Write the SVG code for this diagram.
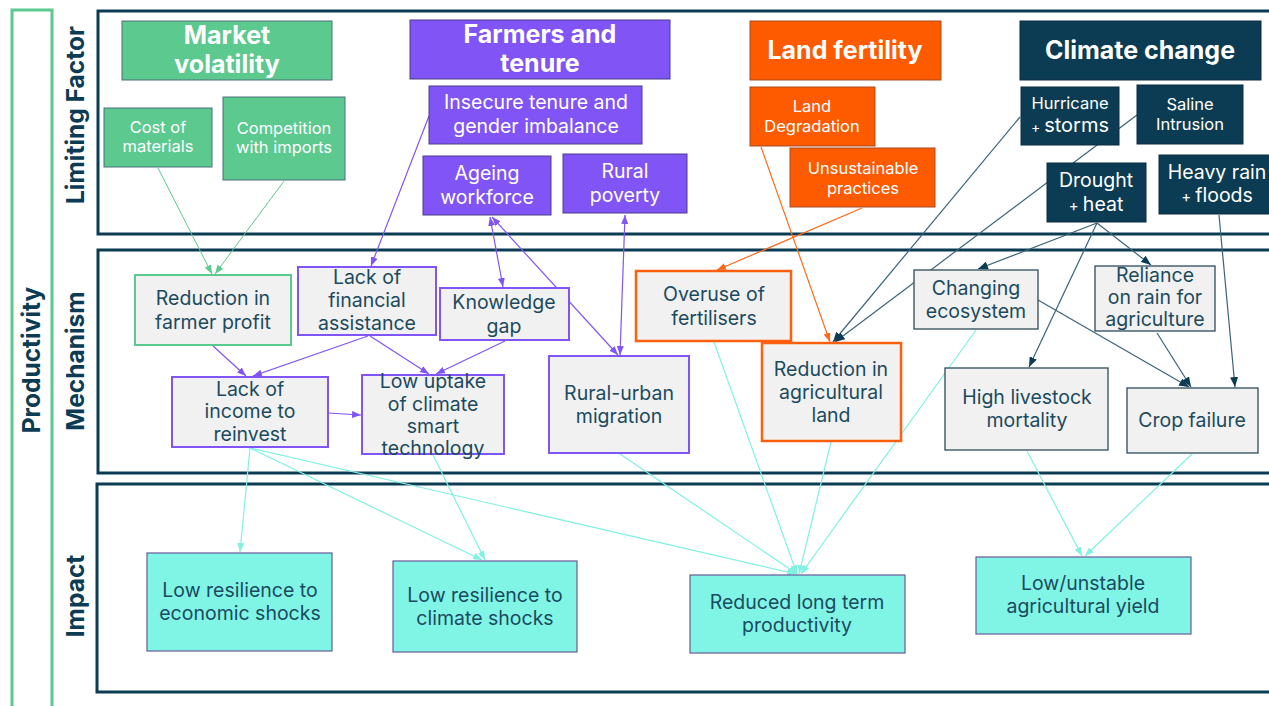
<svg xmlns="http://www.w3.org/2000/svg" width="1269" height="706" viewBox="0 0 1269 706">
  <style>
    text { font-family: Inter, "Noto Sans", "Liberation Sans", sans-serif; text-anchor: middle; }
    .title { font-size: 25px; font-weight: 700; fill: #ffffff; }
    .sub { font-size: 16.5px; font-weight: 400; fill: #ffffff; }
    .sub2 { font-size: 19.5px; font-weight: 400; fill: #ffffff; }
    .body { font-size: 19.5px; font-weight: 400; fill: #1b4a5f; }
    .lbl { font-size: 24.5px; font-weight: 700; fill: #0c3c54; }
    .frame { fill: none; stroke: #0c3c54; stroke-width: 3; }
    .g-fill { fill: #5cc98f; stroke: #4d6e7a; stroke-width: 1; }
    .p-fill { fill: #8155f5; stroke: #4a3d8a; stroke-width: 1; }
    .o-fill { fill: #fe5a00; stroke: #a94a20; stroke-width: 1; }
    .n-fill { fill: #0c3c54; stroke: #0a2d40; stroke-width: 1; }
    .m-green { fill: #f1f1f1; stroke: #5cc98f; stroke-width: 2; }
    .m-purple { fill: #f1f1f1; stroke: #8155f5; stroke-width: 2; }
    .m-orange { fill: #f1f1f1; stroke: #ff5f0f; stroke-width: 2.5; }
    .m-navy { fill: #f1f1f1; stroke: #2f4b5a; stroke-width: 1.3; }
    .imp { fill: #80f5e6; stroke: #6a5a9a; stroke-width: 1.2; }
    .c-green { stroke: #5cc98f; stroke-width: 1; fill: none; marker-end: url(#ah-green); }
    .c-purple { stroke: #8155f5; stroke-width: 1.2; fill: none; marker-end: url(#ah-purple); }
    .c-purple2 { stroke: #8155f5; stroke-width: 1.2; fill: none; marker-start: url(#ah-purple); marker-end: url(#ah-purple); }
    .c-orange { stroke: #ff6a1a; stroke-width: 1.2; fill: none; marker-end: url(#ah-orange); }
    .c-navy { stroke: #3a6378; stroke-width: 1.2; fill: none; marker-end: url(#ah-navy); }
    .c-cyan { stroke: #7ff2e2; stroke-width: 1.2; fill: none; marker-end: url(#ah-cyan); }
  </style>
  <defs>
    <marker id="ah-green" markerUnits="userSpaceOnUse" markerWidth="9" markerHeight="7" refX="9" refY="3.5" orient="auto-start-reverse"><path d="M0,0 L9,3.5 L0,7 z" fill="#5cc98f"/></marker>
    <marker id="ah-purple" markerUnits="userSpaceOnUse" markerWidth="9" markerHeight="7" refX="9" refY="3.5" orient="auto-start-reverse"><path d="M0,0 L9,3.5 L0,7 z" fill="#8155f5"/></marker>
    <marker id="ah-orange" markerUnits="userSpaceOnUse" markerWidth="9" markerHeight="7" refX="9" refY="3.5" orient="auto-start-reverse"><path d="M0,0 L9,3.5 L0,7 z" fill="#ff6a1a"/></marker>
    <marker id="ah-navy" markerUnits="userSpaceOnUse" markerWidth="10" markerHeight="8" refX="10" refY="4" orient="auto-start-reverse"><path d="M0,0 L10,4 L0,8 z" fill="#0c3c54"/></marker>
    <marker id="ah-cyan" markerUnits="userSpaceOnUse" markerWidth="9" markerHeight="7" refX="9" refY="3.5" orient="auto-start-reverse"><path d="M0,0 L9,3.5 L0,7 z" fill="#7ff2e2"/></marker>
  </defs>

  <rect width="1269" height="706" fill="#ffffff"/>

  <!-- Row frames and labels -->
  <g id="frames">
    <rect x="12" y="10" width="40" height="720" fill="none" stroke="#5cc98f" stroke-width="3"/>
    <rect class="frame" x="98" y="11" width="1190" height="223"/>
    <rect class="frame" x="98" y="250" width="1190" height="223"/>
    <rect class="frame" x="97" y="484" width="1190" height="208"/>
    <text class="lbl" transform="translate(40,360) rotate(-90)">Productivity</text>
    <text class="lbl" transform="translate(84,115) rotate(-90)">Limiting Factor</text>
    <text class="lbl" transform="translate(84,361) rotate(-90)">Mechanism</text>
    <text class="lbl" transform="translate(84,596) rotate(-90)">Impact</text>
  </g>

  <!-- Connectors -->
  <g id="connectors">
    <!-- market volatility -->
    <line class="c-green" x1="158" y1="168" x2="212" y2="274"/>
    <line class="c-green" x1="284" y1="181" x2="215" y2="274"/>
    <!-- farmers and tenure -->
    <line class="c-purple" x1="429" y1="116" x2="371" y2="266"/>
    <line class="c-purple2" x1="490" y1="217" x2="503" y2="287"/>
    <line class="c-purple2" x1="492" y1="217" x2="618" y2="355"/>
    <line class="c-purple2" x1="625" y1="215" x2="620" y2="355"/>
    <line class="c-purple" x1="213" y1="346" x2="246" y2="376"/>
    <line class="c-purple" x1="368" y1="336" x2="253" y2="376"/>
    <line class="c-purple" x1="370" y1="336" x2="429" y2="374"/>
    <line class="c-purple" x1="505" y1="341" x2="436" y2="374"/>
    <line class="c-purple" x1="328" y1="413" x2="361" y2="415"/>
    <!-- land fertility -->
    <line class="c-orange" x1="862" y1="208" x2="717" y2="270"/>
    <line class="c-orange" x1="761" y1="147" x2="830" y2="342"/>
    <!-- climate change -->
    <line class="c-navy" x1="1020" y1="117" x2="833" y2="342"/>
    <line class="c-navy" x1="1137" y1="115" x2="835" y2="342"/>
    <line class="c-navy" x1="1097" y1="223" x2="978" y2="269"/>
    <line class="c-navy" x1="1097" y1="223" x2="1029" y2="367"/>
    <line class="c-navy" x1="1097" y1="223" x2="1151" y2="265"/>
    <line class="c-navy" x1="1038" y1="300" x2="1189" y2="387"/>
    <line class="c-navy" x1="1157" y1="333" x2="1191" y2="387"/>
    <line class="c-navy" x1="1219" y1="215" x2="1235" y2="387"/>
    <!-- mechanisms to impacts -->
    <line class="c-cyan" x1="250" y1="448" x2="240" y2="552"/>
    <line class="c-cyan" x1="250" y1="448" x2="482" y2="560"/>
    <line class="c-cyan" x1="250" y1="448" x2="796" y2="574"/>
    <line class="c-cyan" x1="433" y1="455" x2="485" y2="560"/>
    <line class="c-cyan" x1="620" y1="454" x2="797" y2="574"/>
    <line class="c-cyan" x1="714" y1="342" x2="797" y2="574"/>
    <line class="c-cyan" x1="831" y1="442" x2="799" y2="574"/>
    <line class="c-cyan" x1="976" y1="330" x2="801" y2="574"/>
    <line class="c-cyan" x1="1027" y1="451" x2="1082" y2="556"/>
    <line class="c-cyan" x1="1192" y1="454" x2="1085" y2="556"/>
  </g>

  <!-- Limiting factors -->
  <g id="market-volatility">
    <rect class="g-fill" x="122" y="21" width="210" height="59"/>
    <text class="title" x="227" y="44">Market</text>
    <text class="title" x="227" y="73">volatility</text>
  </g>
  <g id="cost-of-materials">
    <rect class="g-fill" x="104" y="108" width="108" height="59" stroke="#4b3f7a"/>
    <text class="sub" x="158" y="133">Cost of</text>
    <text class="sub" x="158" y="152">materials</text>
  </g>
  <g id="competition-with-imports">
    <rect class="g-fill" x="223" y="97" width="122" height="83" stroke="#4b3f7a"/>
    <text class="sub" x="284" y="134">Competition</text>
    <text class="sub" x="284" y="153">with imports</text>
  </g>
  <g id="farmers-and-tenure">
    <rect class="p-fill" x="410" y="20" width="260" height="59"/>
    <text class="title" x="540" y="43">Farmers and</text>
    <text class="title" x="540" y="72">tenure</text>
  </g>
  <g id="insecure-tenure">
    <rect class="p-fill" x="429" y="86" width="213" height="58"/>
    <text class="sub2" x="536" y="109">Insecure tenure and</text>
    <text class="sub2" x="536" y="133">gender imbalance</text>
  </g>
  <g id="ageing-workforce">
    <rect class="p-fill" x="423" y="156" width="128" height="59"/>
    <text class="sub2" x="487" y="180">Ageing</text>
    <text class="sub2" x="487" y="204">workforce</text>
  </g>
  <g id="rural-poverty">
    <rect class="p-fill" x="563" y="154" width="124" height="59"/>
    <text class="sub2" x="625" y="178">Rural</text>
    <text class="sub2" x="625" y="202">poverty</text>
  </g>
  <g id="land-fertility">
    <rect class="o-fill" x="750" y="21" width="191" height="59"/>
    <text class="title" x="845" y="59">Land fertility</text>
  </g>
  <g id="land-degradation">
    <rect class="o-fill" x="750" y="87" width="125" height="59"/>
    <text class="sub" x="812" y="112">Land</text>
    <text class="sub" x="812" y="132">Degradation</text>
  </g>
  <g id="unsustainable-practices">
    <rect class="o-fill" x="790" y="148" width="145" height="59"/>
    <text class="sub" x="863" y="174">Unsustainable</text>
    <text class="sub" x="863" y="194">practices</text>
  </g>
  <g id="climate-change">
    <rect class="n-fill" x="1020" y="21" width="241" height="59"/>
    <text class="title" x="1140" y="59">Climate change</text>
  </g>
  <g id="hurricane-storms">
    <rect class="n-fill" x="1021" y="87" width="98" height="58"/>
    <text class="sub" x="1070" y="109">Hurricane</text>
    <text class="sub" x="1070" y="132"><tspan font-size="14">+ </tspan><tspan font-size="20">storms</tspan></text>
  </g>
  <g id="saline-intrusion">
    <rect class="n-fill" x="1137" y="85" width="106" height="59"/>
    <text class="sub" x="1190" y="110">Saline</text>
    <text class="sub" x="1190" y="130">Intrusion</text>
  </g>
  <g id="drought-heat">
    <rect class="n-fill" x="1047" y="163" width="99" height="59"/>
    <text class="sub2" x="1096" y="187">Drought</text>
    <text class="sub2" x="1096" y="211"><tspan font-size="15">+ </tspan>heat</text>
  </g>
  <g id="heavy-rain-floods">
    <rect class="n-fill" x="1159" y="155" width="120" height="59"/>
    <text class="sub2" x="1217" y="179">Heavy rain</text>
    <text class="sub2" x="1217" y="202"><tspan font-size="15">+ </tspan>floods</text>
  </g>

  <!-- Mechanisms -->
  <g id="reduction-farmer-profit">
    <rect class="m-green" x="135" y="275" width="156" height="70"/>
    <text class="body" x="213" y="305">Reduction in</text>
    <text class="body" x="213" y="329">farmer profit</text>
  </g>
  <g id="lack-financial-assistance">
    <rect class="m-purple" x="298" y="267" width="138" height="68"/>
    <text class="body" x="367" y="284">Lack of</text>
    <text class="body" x="367" y="307">financial</text>
    <text class="body" x="367" y="330">assistance</text>
  </g>
  <g id="knowledge-gap">
    <rect class="m-purple" x="440" y="288" width="129" height="52"/>
    <text class="body" x="504" y="309">Knowledge</text>
    <text class="body" x="504" y="333">gap</text>
  </g>
  <g id="lack-income-reinvest">
    <rect class="m-purple" x="172" y="377" width="156" height="70"/>
    <text class="body" x="250" y="396">Lack of</text>
    <text class="body" x="250" y="418">income to</text>
    <text class="body" x="250" y="441">reinvest</text>
  </g>
  <g id="low-uptake-technology">
    <rect class="m-purple" x="362" y="375" width="142" height="79"/>
    <text class="body" x="433" y="388">Low uptake</text>
    <text class="body" x="433" y="411">of climate</text>
    <text class="body" x="433" y="433">smart</text>
    <text class="body" x="433" y="455">technology</text>
  </g>
  <g id="rural-urban-migration">
    <rect class="m-purple" x="549" y="356" width="140" height="97"/>
    <text class="body" x="619" y="400">Rural-urban</text>
    <text class="body" x="619" y="423">migration</text>
  </g>
  <g id="overuse-fertilisers">
    <rect class="m-orange" x="636" y="271" width="155" height="70"/>
    <text class="body" x="714" y="301">Overuse of</text>
    <text class="body" x="714" y="325">fertilisers</text>
  </g>
  <g id="reduction-agricultural-land">
    <rect class="m-orange" x="762" y="343" width="139" height="98"/>
    <text class="body" x="831" y="376">Reduction in</text>
    <text class="body" x="831" y="399">agricultural</text>
    <text class="body" x="831" y="422">land</text>
  </g>
  <g id="changing-ecosystem">
    <rect class="m-navy" x="914" y="270" width="124" height="59"/>
    <text class="body" x="976" y="295">Changing</text>
    <text class="body" x="976" y="318">ecosystem</text>
  </g>
  <g id="reliance-on-rain">
    <rect class="m-navy" x="1095" y="266" width="120" height="65"/>
    <text class="body" x="1155" y="282">Reliance</text>
    <text class="body" x="1155" y="304" font-size="18.5">on rain for</text>
    <text class="body" x="1155" y="326" font-size="14.5">agriculture</text>
  </g>
  <g id="high-livestock-mortality">
    <rect class="m-navy" x="945" y="368" width="163" height="82"/>
    <text class="body" x="1027" y="404">High livestock</text>
    <text class="body" x="1027" y="427">mortality</text>
  </g>
  <g id="crop-failure">
    <rect class="m-navy" x="1127" y="388" width="131" height="65"/>
    <text class="body" x="1192" y="427">Crop failure</text>
  </g>

  <!-- Impacts -->
  <g id="low-resilience-economic">
    <rect class="imp" x="147" y="553" width="185" height="98"/>
    <text class="body" x="240" y="597">Low resilience to</text>
    <text class="body" x="240" y="620">economic shocks</text>
  </g>
  <g id="low-resilience-climate">
    <rect class="imp" x="393" y="561" width="184" height="91"/>
    <text class="body" x="485" y="602">Low resilience to</text>
    <text class="body" x="485" y="625">climate shocks</text>
  </g>
  <g id="reduced-long-term-productivity">
    <rect class="imp" x="690" y="575" width="215" height="78"/>
    <text class="body" x="797" y="609">Reduced long term</text>
    <text class="body" x="797" y="632">productivity</text>
  </g>
  <g id="low-unstable-yield">
    <rect class="imp" x="976" y="557" width="215" height="77"/>
    <text class="body" x="1083" y="590">Low/unstable</text>
    <text class="body" x="1083" y="613">agricultural yield</text>
  </g>
</svg>
